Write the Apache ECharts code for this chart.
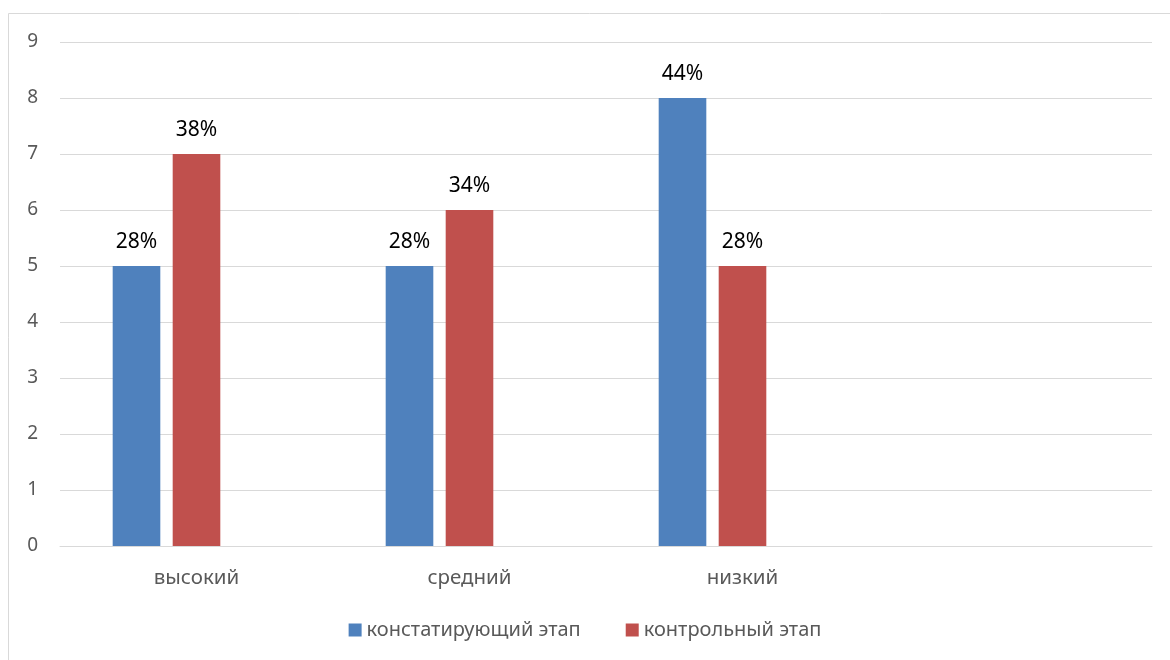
<!DOCTYPE html>
<html>
<head>
<meta charset="utf-8">
<script src="https://cdn.jsdelivr.net/npm/echarts@6/dist/echarts.min.js"></script>
<style>html,body{margin:0;padding:0;background:#fff}#c{width:1170px;height:660px}</style>
</head>
<body>
<div id="c"></div>
<script>
var categories = ['высокий', 'средний', 'низкий', ''];
var seriesNames = ['констатирующий этап', 'контрольный этап'];
var stage1Values = [5, 5, 8, null];
var stage2Values = [7, 6, 5, null];
var stage1Labels = ['28%', '28%', '44%', ''];
var stage2Labels = ['38%', '34%', '28%', ''];
var emptyValues = [null, null, null, null];
var yTicks = [0, 1, 2, 3, 4, 5, 6, 7, 8, 9];

var FONT = 'Noto Sans';
var chart = echarts.init(document.getElementById('c'), null, {renderer: 'canvas'});

function labelCfg(arr) {
  return {
    show: true, position: 'top', distance: 13,
    color: '#000', fontSize: 21, fontFamily: FONT,
    formatter: function (p) { return arr[p.dataIndex]; }
  };
}

chart.setOption({
  animation: false,
  backgroundColor: '#fff',
  graphic: [{
    type: 'rect', silent: true,
    shape: {x: 8.5, y: 13.5, width: 2000, height: 2000},
    style: {fill: 'none', stroke: '#d9d9d9', lineWidth: 1}
  }],
  grid: {left: 60, right: 18, top: 42, bottom: 114, containLabel: false},
  legend: {
    data: seriesNames, bottom: 15, left: 'center',
    itemWidth: 13, itemHeight: 13, itemGap: 45, icon: 'rect',
    textStyle: {color: '#595959', fontSize: 20, fontFamily: FONT}
  },
  xAxis: {
    type: 'category', data: categories,
    axisLine: {lineStyle: {color: '#d9d9d9', width: 1}},
    axisTick: {show: false},
    axisLabel: {color: '#595959', fontSize: 20.5, fontFamily: FONT, margin: 22}
  },
  yAxis: {
    type: 'value', min: yTicks[0], max: yTicks[yTicks.length - 1], interval: 1,
    axisLine: {show: false}, axisTick: {show: false},
    splitLine: {lineStyle: {color: '#d9d9d9', width: 1}},
    axisLabel: {color: '#595959', fontSize: 19, fontFamily: FONT, margin: 22}
  },
  series: [
    {name: seriesNames[0], type: 'bar', data: stage1Values, itemStyle: {color: '#4f81bd'},
     barGap: '26%', barCategoryGap: '38.6%', label: labelCfg(stage1Labels)},
    {name: seriesNames[1], type: 'bar', data: stage2Values, itemStyle: {color: '#c0504d'},
     label: labelCfg(stage2Labels)},
    {name: '_empty', type: 'bar', data: emptyValues, itemStyle: {color: '#9bbb59'}}
  ]
});
</script>
</body>
</html>
